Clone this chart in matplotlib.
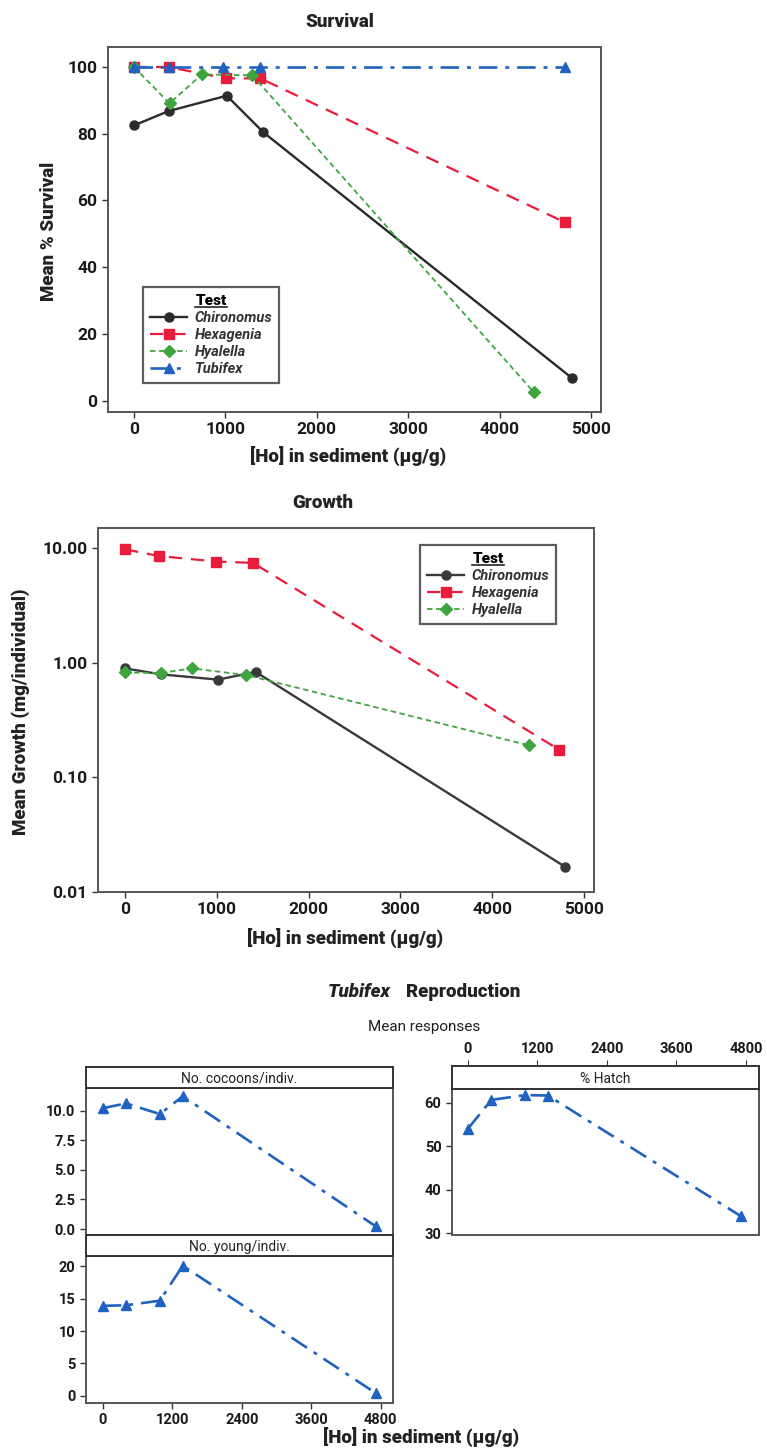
import numpy as np
import matplotlib.pyplot as plt
from matplotlib.lines import Line2D

plt.rcParams['font.family'] = ['Roboto', 'DejaVu Sans']

# survival data
chir_x = [0, 380, 1015, 1417, 4790]
chir_surv = [82.5, 86.8, 91.4, 80.4, 6.8]
hexa_x = [0, 380, 1003, 1383, 4710]
hexa_surv = [100, 100, 96.6, 96.6, 53.5]
hyal_x = [0, 389, 743, 1296, 4375]
hyal_surv = [100, 89.1, 97.8, 97.5, 2.5]
tubi_x = [0, 380, 975, 1375, 4720]
tubi_surv = [100, 100, 100, 100, 100]

# growth data
chir_gx = [0, 388, 1013, 1422, 4797]
chir_growth = [0.89, 0.79, 0.71, 0.83, 0.0165]
hexa_gx = [0, 366, 991, 1392, 4728]
hexa_growth = [9.7, 8.5, 7.6, 7.4, 0.174]
hyal_gx = [0, 388, 724, 1315, 4397]
hyal_growth = [0.82, 0.81, 0.89, 0.78, 0.19]

# tubifex reproduction
rep_x = [0, 404, 985, 1380, 4715]
cocoons = [10.2, 10.6, 9.7, 11.2, 0.22]
young = [13.9, 14.0, 14.7, 20.1, 0.4]
hatch = [54.0, 60.6, 61.7, 61.6, 33.9]

W, H = 767, 1456
fig = plt.figure(figsize=(W / 100, H / 100), dpi=100)

def rect(x0, y0, x1, y1):
    return [x0 / W, 1 - y1 / H, (x1 - x0) / W, (y1 - y0) / H]

def ftext(x, y, s, **kw):
    return fig.text(x / W, 1 - y / H, s, **kw)

col_chir = '#2b2b2b'
col_hexa = '#ea1c3c'
col_hyal = '#3fa53f'
col_tubi = '#1f62c0'
spine_col = '#555555'
dashdot = (0, (7, 3, 1.5, 3))
lab_kw = dict(fontsize=13.5, fontweight='heavy', color='#222222')

def style_axes(ax, size=12.5):
    for s in ax.spines.values():
        s.set_color(spine_col)
        s.set_linewidth(1.4)
    ax.tick_params(direction='out', length=4, width=1, colors='#333333', labelsize=size,
                   labelcolor='#1a1a1a')
    for lab in ax.get_xticklabels() + ax.get_yticklabels():
        lab.set_fontweight('bold')

def add_legend(ax, loc, bbox):
    leg = ax.legend(loc=loc, bbox_to_anchor=bbox, bbox_transform=fig.transFigure,
                    title='Test', prop=dict(style='italic', weight='bold', size=10.5),
                    frameon=True, fancybox=False, edgecolor='#333333',
                    handlelength=2.6, borderpad=0.45, labelspacing=0.22,
                    handletextpad=0.5, borderaxespad=0)
    leg.get_frame().set_linewidth(1.6)
    leg.get_title().set_fontsize(11)
    leg.get_title().set_fontweight('heavy')
    for t in leg.get_texts():
        t.set_color('#333333')
    return leg

# ---- Survival ----
ax1 = fig.add_axes(rect(108, 47, 601, 412))
ax1.plot(chir_x, chir_surv, color=col_chir, ls='-', lw=1.7, marker='o', ms=6.5, label='Chironomus', zorder=3)
ax1.plot(hexa_x, hexa_surv, color=col_hexa, ls=(0, (6, 4)), lw=1.6, marker='s', ms=6.5, label='Hexagenia', zorder=3)
ax1.plot(hyal_x, hyal_surv, color=col_hyal, ls=(0, (3, 2)), lw=1.3, marker='D', ms=6, label='Hyalella', zorder=3)
ax1.plot(tubi_x, tubi_surv, color=col_tubi, ls=dashdot, lw=1.9, marker='^', ms=7, label='Tubifex', zorder=4)
ax1.set_xlim(-284, 5109)
ax1.set_ylim(-3.4, 106)
ax1.set_xticks([0, 1000, 2000, 3000, 4000, 5000])
ax1.set_yticks([0, 20, 40, 60, 80, 100])
style_axes(ax1)
ftext(340, 22, 'Survival', ha='center', va='center', **lab_kw)
ftext(348, 456, '[Ho] in sediment (µg/g)', ha='center', va='center', **lab_kw)
ftext(49, 231, 'Mean % Survival', ha='center', va='center', rotation=90, **lab_kw)
leg1 = add_legend(ax1, 'upper left', (143 / W, 1 - 287 / H))

# ---- Growth ----
ax2 = fig.add_axes(rect(98, 528, 594, 892))
ax2.plot(chir_gx, chir_growth, color='#3a3a3a', ls='-', lw=1.7, marker='o', ms=6.5, label='Chironomus', zorder=3)
ax2.plot(hexa_gx, hexa_growth, color=col_hexa, ls=(0, (6, 4)), lw=1.6, marker='s', ms=6.5, label='Hexagenia', zorder=3)
ax2.plot(hyal_gx, hyal_growth, color=col_hyal, ls=(0, (3, 2)), lw=1.3, marker='D', ms=6, label='Hyalella', zorder=3)
ax2.set_yscale('log')
ax2.set_xlim(-295, 5108)
ax2.set_ylim(0.01, 14.9)
ax2.set_xticks([0, 1000, 2000, 3000, 4000, 5000])
ax2.set_yticks([0.01, 0.1, 1, 10])
ax2.set_yticklabels(['0.01', '0.10', '1.00', '10.00'])
ax2.minorticks_off()
style_axes(ax2)
ftext(323, 503, 'Growth', ha='center', va='center', **lab_kw)
ftext(345, 938, '[Ho] in sediment (µg/g)', ha='center', va='center', **lab_kw)
ftext(21, 712, 'Mean Growth (mg/individual)', ha='center', va='center', rotation=90, **lab_kw)
leg2 = add_legend(ax2, 'upper left', (420 / W, 1 - 545 / H))

# ---- Tubifex reproduction ----
ftext(391, 992, 'Tubifex', ha='right', va='center', fontsize=13.5, fontweight='heavy',
      style='italic', color='#222222')
ftext(406, 992, 'Reproduction', ha='left', va='center', **lab_kw)
ftext(424, 1027, 'Mean responses', ha='center', va='center', fontsize=11, color='#222222')
ftext(421, 1437, '[Ho] in sediment (µg/g)', ha='center', va='center', **lab_kw)

rep_ticks = [0, 1200, 2400, 3600, 4800]

def panel(box, strip, xlim, yvals, ylim, yticks, ylabels, title):
    ax = fig.add_axes(rect(*box))
    ax.plot(rep_x, yvals, color=col_tubi, ls=dashdot, lw=1.9, marker='^', ms=7)
    ax.set_xlim(*xlim)
    ax.set_ylim(*ylim)
    ax.set_yticks(yticks)
    ax.set_yticklabels(ylabels)
    ax.set_xticks(rep_ticks)
    style_axes(ax, 10.5)
    sax = fig.add_axes(rect(*strip))
    sax.set_xlim(*xlim)
    sax.set_yticks([])
    sax.set_xticks([])
    for s in sax.spines.values():
        s.set_color('#333333')
        s.set_linewidth(1.4)
    sax.text(0.5, 0.45, title, transform=sax.transAxes, ha='center', va='center',
             fontsize=10, color='#222222')
    return ax, sax

ax3, s3 = panel((86, 1088, 393, 1235), (86, 1067, 393, 1088), (-290, 5010), cocoons, (-0.5, 11.9),
                [0, 2.5, 5, 7.5, 10], ['0.0', '2.5', '5.0', '7.5', '10.0'], 'No. cocoons/indiv.')
ax3.tick_params(axis='x', labelbottom=False, length=0)

ax4, s4 = panel((86, 1256, 393, 1403), (86, 1235, 393, 1256), (-290, 5010), young, (-1.1, 21.6),
                [0, 5, 10, 15, 20], ['0', '5', '10', '15', '20'], 'No. young/indiv.')

ax5, s5 = panel((452, 1089, 759, 1235), (452, 1066, 759, 1089), (-276, 5025), hatch, (29.6, 63.1),
                [30, 40, 50, 60], ['30', '40', '50', '60'], '% Hatch')
ax5.tick_params(axis='x', labelbottom=False, length=0)
s5.set_xticks(rep_ticks)
s5.tick_params(axis='x', top=True, labeltop=True, bottom=False, labelbottom=False,
               direction='out', length=4, labelsize=10.5, colors='#333333', labelcolor='#1a1a1a')
for lab in s5.get_xticklabels():
    lab.set_fontweight('bold')

# underline legend titles
fig.canvas.draw()
r = fig.canvas.get_renderer()
for leg in (leg1, leg2):
    bb = leg.get_title().get_window_extent(r)
    y = bb.y0 + 1
    fig.add_artist(Line2D([bb.x0 / W, bb.x1 / W], [y / H, y / H],
                          transform=fig.transFigure, color='#222222', lw=1.2))

fig.savefig('out.png', dpi=100)
